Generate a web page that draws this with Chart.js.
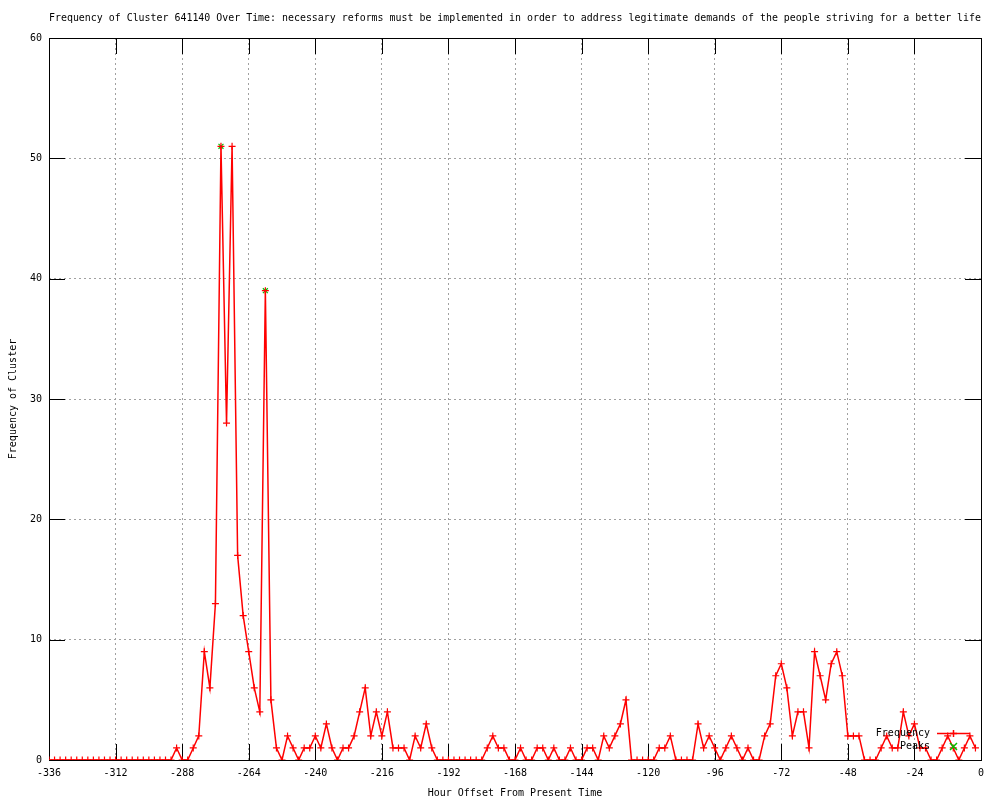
<!DOCTYPE html>
<html>
<head>
<meta charset="utf-8">
<script src="https://cdn.jsdelivr.net/npm/chart.js@4.4.1/dist/chart.umd.min.js"></script>
<style>
html,body{margin:0;padding:0;background:#fff;}
#wrap{width:1000px;height:800px;}
</style>
</head>
<body>
<div id="wrap"><canvas id="c" width="1000" height="800"></canvas></div>
<script>
// ---- data ----
const hours = [
 -336,-334,-332,-330,-328,-326,-324,-322,-320,-318,-316,-314,-312,-310,-308,-306,-304,-302,-300,-298,-296,-294,
 -292,-290,-288,-286,-284,-282,-280,-278,-276,-274,-272,-270,-268,-266,-264,-262,-260,-258,-256,-254,-252,-250,
 -248,-246,-244,-242,-240,-238,-236,-234,-232,-230,-228,-226,-224,-222,-220,-218,-216,-214,-212,-210,-208,-206,
 -204,-202,-200,-198,-196,-194,-192,-190,-188,-186,-184,-182,-180,-178,-176,-174,-172,-170,-168,-166,-164,-162,
 -160,-158,-156,-154,-152,-150,-148,-146,-144,-142,-140,-138,-136,-134,-132,-130,-128,-126,-124,-122,-120,-118,
 -116,-114,-112,-110,-108,-106,-104,-102,-100,-98,-96,-94,-92,-90,-88,-86,-84,-82,-80,-78,-76,-74,-72,-70,
 -68,-66,-64,-62,-60,-58,-56,-54,-52,-50,-48,-46,-44,-42,-40,-38,-36,-34,-32,-30,-28,-26,-24,-22,
 -20,-18,-16,-14,-12,-10,-8,-6,-4,-2
];
const frequency = [
 0,0,0,0,0,0,0,0,0,0,0,0,0,0,0,0,0,0,0,0,0,0,
 0,1,0,0,1,2,9,6,13,51,28,51,17,12,9,6,4,39,5,1,0,2,
 1,0,1,1,2,1,3,1,0,1,1,2,4,6,2,4,2,4,1,1,1,0,
 2,1,3,1,0,0,0,0,0,0,0,0,0,1,2,1,1,0,0,1,0,0,
 1,1,0,1,0,0,1,0,0,1,1,0,2,1,2,3,5,0,0,0,0,0,
 1,1,2,0,0,0,0,3,1,2,1,0,1,2,1,0,1,0,0,2,3,7,8,6,
 2,4,4,1,9,7,5,8,9,7,2,2,2,0,0,0,1,2,1,1,4,2,3,1,
 1,0,0,1,2,1,0,1,2,1
];
const peakHours = [-274, -258];
const peakValues = [51, 39];
const xTickValues = [-336,-312,-288,-264,-240,-216,-192,-168,-144,-120,-96,-72,-48,-24,0];
const yTickValues = [0,10,20,30,40,50,60];
const seriesNames = ["Frequency", "Peaks"];
const titleText = "Frequency of Cluster 641140 Over Time: necessary reforms must be implemented in order to address legitimate demands of the people striving for a better life";
const xAxisTitle = "Hour Offset From Present Time";
const yAxisTitle = "Frequency of Cluster";

// ---- styling ----
const FONT = '"DejaVu Sans Mono", "Liberation Mono", monospace';
const RED = '#ff0000';
const GREEN = '#00c000';
const TICKLEN_X = 16;
const TICKLEN_Y = 16;
const legendStyles = [
  { color: RED, line: true, marker: 'cross' },
  { color: GREEN, line: false, marker: 'crossRot' }
];

const freqPoints = hours.map((h, i) => ({x: h, y: frequency[i]}));
const peakPoints = peakHours.map((h, i) => ({x: h, y: peakValues[i]}));

function drawMarker(ctx, style, x, y, r) {
  ctx.beginPath();
  if (style === 'cross') {
    ctx.moveTo(x - r, y); ctx.lineTo(x + r, y);
    ctx.moveTo(x, y - r); ctx.lineTo(x, y + r);
  } else {
    ctx.moveTo(x - r, y - r); ctx.lineTo(x + r, y + r);
    ctx.moveTo(x - r, y + r); ctx.lineTo(x + r, y - r);
  }
  ctx.stroke();
}

const framePlugin = {
  id: 'gnuplotFrame',
  beforeDatasetsDraw(chart) {
    const ctx = chart.ctx;
    const {left, right, top, bottom} = chart.chartArea;
    const xs = chart.scales.x, ys = chart.scales.y;
    ctx.save();
    ctx.strokeStyle = '#000';
    ctx.lineWidth = 1;
    ctx.setLineDash([]);
    ctx.beginPath();
    xTickValues.forEach(v => {
      const px = Math.round(xs.getPixelForValue(v)) + 0.5;
      ctx.moveTo(px, bottom); ctx.lineTo(px, bottom - TICKLEN_X);
      ctx.moveTo(px, top); ctx.lineTo(px, top + TICKLEN_X);
    });
    yTickValues.forEach(v => {
      const py = Math.round(ys.getPixelForValue(v)) + 0.5;
      ctx.moveTo(left, py); ctx.lineTo(left + TICKLEN_Y, py);
      ctx.moveTo(right, py); ctx.lineTo(right - TICKLEN_Y, py);
    });
    ctx.stroke();
    ctx.strokeRect(Math.round(left) + 0.5, Math.round(top) + 0.5, Math.round(right - left), Math.round(bottom - top));
    ctx.restore();
  },
  afterDraw(chart) {
    const ctx = chart.ctx;
    ctx.save();
    ctx.setLineDash([]);
    ctx.font = '10px ' + FONT;
    ctx.textAlign = 'right';
    ctx.textBaseline = 'middle';
    const textRight = 930, sx0 = 937, sx1 = 970, sxm = 953.5;
    const rows = [733, 746];
    chart.data.datasets.forEach((ds, i) => {
      const y = rows[i];
      const st = legendStyles[i];
      ctx.fillStyle = '#000';
      ctx.fillText(ds.label, textRight, y);
      ctx.strokeStyle = st.color;
      ctx.lineWidth = 1.5;
      if (st.line) {
        ctx.beginPath();
        ctx.moveTo(sx0, y + 0.5); ctx.lineTo(sx1, y + 0.5);
        ctx.stroke();
      }
      drawMarker(ctx, st.marker, sxm, y + 0.5, 3.5);
    });
    ctx.restore();
  }
};

new Chart(document.getElementById('c'), {
  type: 'line',
  data: {
    datasets: [
      {
        label: seriesNames[0],
        data: freqPoints,
        borderColor: RED,
        backgroundColor: RED,
        borderWidth: 1.5,
        pointStyle: 'cross',
        pointRadius: 3.5,
        pointBorderWidth: 1.2,
        pointBorderColor: RED,
        fill: false,
        tension: 0
      },
      {
        label: seriesNames[1],
        data: peakPoints,
        borderColor: GREEN,
        backgroundColor: GREEN,
        showLine: false,
        pointStyle: 'crossRot',
        pointRadius: 3.5,
        pointBorderWidth: 1.2,
        pointBorderColor: GREEN
      }
    ]
  },
  options: {
    responsive: false,
    devicePixelRatio: 1,
    animation: false,
    layout: { padding: { top: 0, right: 19, bottom: 0, left: 0 } },
    plugins: {
      legend: { display: false },
      tooltip: { enabled: false },
      title: {
        display: true,
        text: titleText,
        fullSize: false,
        color: '#000',
        font: { family: FONT, size: 10, weight: 'normal' },
        padding: { top: 12, bottom: 14 }
      }
    },
    scales: {
      x: {
        type: 'linear',
        min: -336,
        max: 0,
        afterBuildTicks: s => { s.ticks = xTickValues.map(v => ({value: v})); },
        afterFit: s => { s.height = 40; },
        ticks: {
          color: '#000',
          font: { family: FONT, size: 10 },
          padding: 7,
          maxRotation: 0,
          autoSkip: false
        },
        grid: { color: '#a0a0a0', lineWidth: 1, drawTicks: false },
        border: { display: false, dash: [2, 3] },
        title: {
          display: true,
          text: xAxisTitle,
          color: '#000',
          font: { family: FONT, size: 10 },
          padding: { top: 0, bottom: 1 }
        }
      },
      y: {
        type: 'linear',
        min: 0,
        max: 60,
        afterBuildTicks: s => { s.ticks = yTickValues.map(v => ({value: v})); },
        afterFit: s => { s.width = 49; },
        ticks: {
          color: '#000',
          font: { family: FONT, size: 10 },
          padding: 7
        },
        grid: { color: '#a0a0a0', lineWidth: 1, drawTicks: false },
        border: { display: false, dash: [2, 3] },
        title: {
          display: true,
          text: yAxisTitle,
          color: '#000',
          font: { family: FONT, size: 10 },
          padding: { top: 7, bottom: 0 }
        }
      }
    }
  },
  plugins: [framePlugin]
});
</script>
</body>
</html>
